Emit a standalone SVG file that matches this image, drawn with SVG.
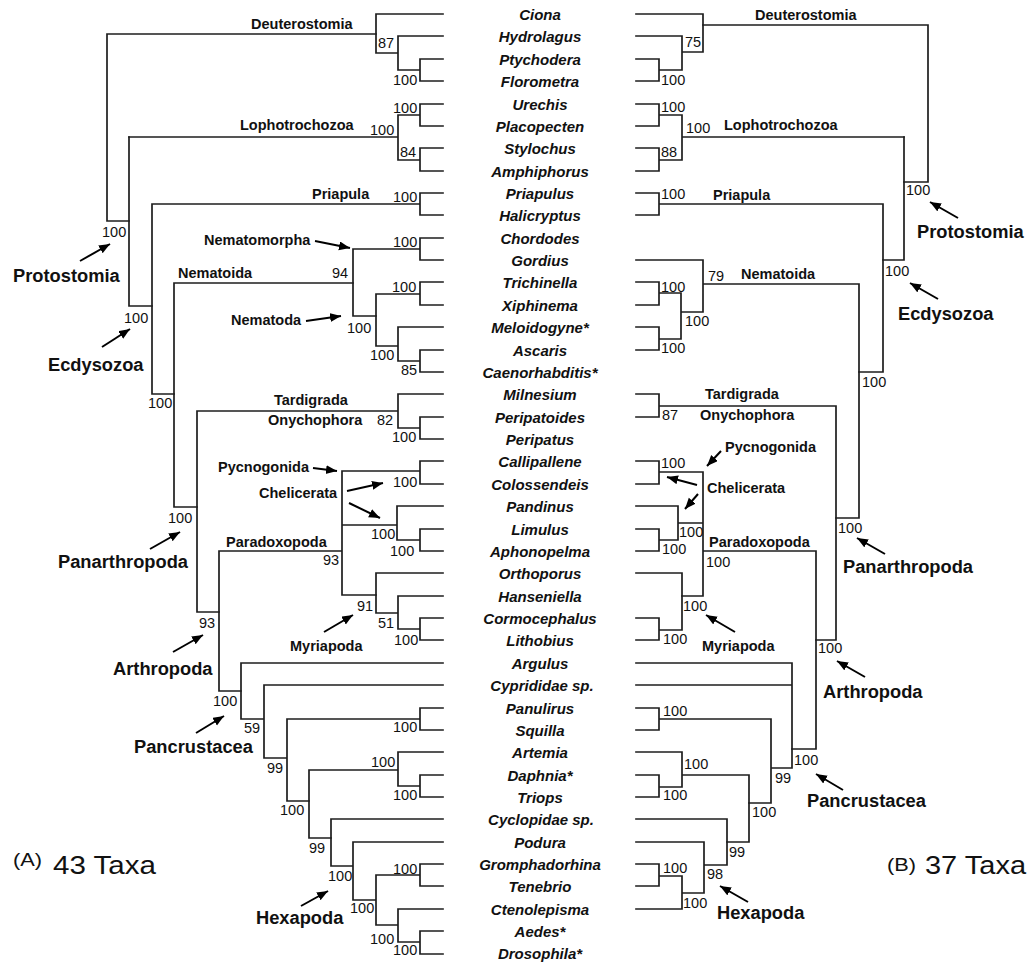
<svg xmlns="http://www.w3.org/2000/svg" width="1030" height="962" viewBox="0 0 1030 962">
<style>
.br{fill:none;stroke:#1e1e1e;stroke-width:1.7;stroke-linecap:square}
.ar{fill:none;stroke:#000;stroke-width:2;marker-end:url(#ah)}
.tx{font-family:"Liberation Sans",Arial,sans-serif;font-size:15px;font-weight:bold;font-style:italic;text-anchor:middle;fill:#111}
.n{font-family:"Liberation Sans",Arial,sans-serif;font-size:14.5px;fill:#111}
.c{font-family:"Liberation Sans",Arial,sans-serif;font-size:14.5px;font-weight:bold;fill:#111}
.b{font-family:"Liberation Sans",Arial,sans-serif;font-size:18.3px;font-weight:bold;fill:#111}
.p{font-family:"Liberation Sans",Arial,sans-serif;fill:#111}
</style>
<defs>
<marker id="ah" markerUnits="userSpaceOnUse" markerWidth="12" markerHeight="10" refX="11" refY="4.5" orient="auto">
<path d="M0,0 L11,4.5 L0,9 z" fill="#000"/>
</marker>
</defs>
<rect width="1030" height="962" fill="#fff"/>
<g id="connectors">
<g id="treeA" class="br">
<path d="M443,14 H376 V53 H398 M443,36 H398 V70 H420 M443,59 H420 V81 H443"/>
<path d="M376,34 H107 V221 H129"/>
<path d="M443,104 H420 V126 H443 M443,148 H420 V171 H443 M420,115 H398 V160 H420 M398,137 H129"/>
<path d="M129,137 V306 H152"/>
<path d="M443,193 H420 V215 H443 M420,204 H152 M152,204 V394 H174"/>
<path d="M174,283 V507 H197 M174,283 H353"/>
<path d="M353,249 V316 H376 M353,249 H420 M443,238 H420 V260 H443"/>
<path d="M376,294 V346 H398 M376,294 H420 M443,282 H420 V305 H443 M443,327 H398 V361 H420 M443,350 H420 V372 H443"/>
<path d="M197,411 V612 H219 M197,411 H398 M443,394 H398 V428 H420 M443,417 H420 V439 H443"/>
<path d="M219,551 V691 H241 M219,551 H342 M420,471 H342 V595 H376 M443,461 H420 V484 H443 M342,525 H397 M443,506 H397 V540 H420 M443,529 H420 V551 H443"/>
<path d="M443,573 H376 V613 H398 M443,596 H398 V629 H420 M443,618 H420 V640 H443"/>
<path d="M443,663 H241 V719 H264 M443,685 H264 V758 H287 M420,719 H287 V801 H309 M443,708 H420 V730 H443"/>
<path d="M398,770 H309 V838 H331 M443,752 H398 V786 H420 M443,775 H420 V797 H443"/>
<path d="M443,819 H331 V866 H353 M443,842 H353 V900 H376 M420,875 H376 V925 H398 M443,864 H420 V886 H443 M443,909 H398 V942 H420 M443,931 H420 V954 H443"/>
</g>
<g id="treeB" class="br">
<path d="M636,14 H703 V52 H682 M636,36 H682 V70 H659 M636,59 H659 V81 H636"/>
<path d="M703,25 H928 V182 H904"/>
<path d="M636,104 H659 V126 H636 M636,148 H659 V171 H636 M659,115 H682 V160 H659 M682,137 H904"/>
<path d="M904,137 V260 H883"/>
<path d="M636,193 H659 V215 H636 M659,204 H883 M883,204 V372 H859"/>
<path d="M859,284 V518 H836 M859,284 H703 M636,260 H703 V312 H681 M636,282 H659 V305 H636 M659,293 H681 V339 H659 M636,327 H659 V350 H636"/>
<path d="M836,406 V640 H816 M836,406 H659 M636,394 H659 V417 H636"/>
<path d="M816,551 V749 H792 M816,551 H703 M659,472 H703 V596 H682 M636,461 H659 V484 H636 M703,523 H678 M636,506 H678 V540 H659 M636,529 H659 V551 H636"/>
<path d="M636,573 H682 V630 H659 M636,618 H659 V640 H636"/>
<path d="M636,663 H792 V768 H771 M636,685 H792 M659,719 H771 V803 H749 M636,708 H659 V730 H636"/>
<path d="M682,775 H749 V842 H727 M636,752 H682 V787 H659 M636,775 H659 V797 H636"/>
<path d="M636,819 H727 V865 H704 M636,842 H704 V893 H682 M659,876 H682 V909 H636 M636,864 H659 V886 H636"/>
</g>
<g id="arrows">
<path class="ar" d="M80,261 L110,244"/>
<path class="ar" d="M102,347 L130,329"/>
<path class="ar" d="M315,241 L350,248"/>
<path class="ar" d="M306,321 L341,316"/>
<path class="ar" d="M313,468 L337,471"/>
<path class="ar" d="M347,491 L383,483"/>
<path class="ar" d="M349,503 L380,518"/>
<path class="ar" d="M150,549 L180,532"/>
<path class="ar" d="M173,652 L203,635"/>
<path class="ar" d="M324,632 L353,615"/>
<path class="ar" d="M196,733 L224,716"/>
<path class="ar" d="M301,906 L328,891"/>
<path class="ar" d="M958,218 L930,202"/>
<path class="ar" d="M938,299 L910,283"/>
<path class="ar" d="M721,451 L707,466"/>
<path class="ar" d="M697,485 L667,477"/>
<path class="ar" d="M698,494 L685,509"/>
<path class="ar" d="M885,554 L857,538"/>
<path class="ar" d="M865,677 L837,661"/>
<path class="ar" d="M735,632 L706,615"/>
<path class="ar" d="M843,790 L816,774"/>
<path class="ar" d="M748,902 L720,886"/>
</g>
</g>
<g id="taxa">
<text id="t-ciona" class="tx" x="540" y="20">Ciona</text>
<text id="t-hydrolagus" class="tx" x="540" y="42">Hydrolagus</text>
<text id="t-ptychodera" class="tx" x="540" y="65">Ptychodera</text>
<text id="t-florometra" class="tx" x="540" y="87">Florometra</text>
<text id="t-urechis" class="tx" x="540" y="110">Urechis</text>
<text id="t-placopecten" class="tx" x="540" y="132">Placopecten</text>
<text id="t-stylochus" class="tx" x="540" y="154">Stylochus</text>
<text id="t-amphiphorus" class="tx" x="540" y="177">Amphiphorus</text>
<text id="t-priapulus" class="tx" x="540" y="199">Priapulus</text>
<text id="t-halicryptus" class="tx" x="540" y="221">Halicryptus</text>
<text id="t-chordodes" class="tx" x="540" y="244">Chordodes</text>
<text id="t-gordius" class="tx" x="540" y="266">Gordius</text>
<text id="t-trichinella" class="tx" x="540" y="288">Trichinella</text>
<text id="t-xiphinema" class="tx" x="540" y="311">Xiphinema</text>
<text id="t-meloidogyne" class="tx" x="540" y="333">Meloidogyne*</text>
<text id="t-ascaris" class="tx" x="540" y="356">Ascaris</text>
<text id="t-caenorhabditis" class="tx" x="540" y="378">Caenorhabditis*</text>
<text id="t-milnesium" class="tx" x="540" y="400">Milnesium</text>
<text id="t-peripatoides" class="tx" x="540" y="423">Peripatoides</text>
<text id="t-peripatus" class="tx" x="540" y="445">Peripatus</text>
<text id="t-callipallene" class="tx" x="540" y="467">Callipallene</text>
<text id="t-colossendeis" class="tx" x="540" y="490">Colossendeis</text>
<text id="t-pandinus" class="tx" x="540" y="512">Pandinus</text>
<text id="t-limulus" class="tx" x="540" y="535">Limulus</text>
<text id="t-aphonopelma" class="tx" x="540" y="557">Aphonopelma</text>
<text id="t-orthoporus" class="tx" x="540" y="579">Orthoporus</text>
<text id="t-hanseniella" class="tx" x="540" y="602">Hanseniella</text>
<text id="t-cormocephalus" class="tx" x="540" y="624">Cormocephalus</text>
<text id="t-lithobius" class="tx" x="540" y="646">Lithobius</text>
<text id="t-argulus" class="tx" x="540" y="669">Argulus</text>
<text id="t-cyprididae" class="tx" x="542" y="691">Cyprididae sp.</text>
<text id="t-panulirus" class="tx" x="540" y="714">Panulirus</text>
<text id="t-squilla" class="tx" x="540" y="736">Squilla</text>
<text id="t-artemia" class="tx" x="540" y="758">Artemia</text>
<text id="t-daphnia" class="tx" x="540" y="781">Daphnia*</text>
<text id="t-triops" class="tx" x="540" y="803">Triops</text>
<text id="t-cyclopidae" class="tx" x="541" y="825">Cyclopidae sp.</text>
<text id="t-podura" class="tx" x="540" y="848">Podura</text>
<text id="t-gromphadorhina" class="tx" x="540" y="870">Gromphadorhina</text>
<text id="t-tenebrio" class="tx" x="540" y="892">Tenebrio</text>
<text id="t-ctenolepisma" class="tx" x="540" y="915">Ctenolepisma</text>
<text id="t-aedes" class="tx" x="540" y="937">Aedes*</text>
<text id="t-drosophila" class="tx" x="540" y="959">Drosophila*</text>
</g>
<g id="cladesA">
<text id="a-deut" class="c" x="251" y="29">Deuterostomia</text>
<text id="a-loph" class="c" x="240" y="130">Lophotrochozoa</text>
<text id="a-priap" class="c" x="312" y="199">Priapula</text>
<text id="a-nemm" class="c" x="204" y="245">Nematomorpha</text>
<text id="a-nemd" class="c" x="178" y="278">Nematoida</text>
<text id="a-nemt" class="c" x="231" y="325">Nematoda</text>
<text id="a-tard" class="c" x="274" y="405">Tardigrada</text>
<text id="a-onyc" class="c" x="268" y="425">Onychophora</text>
<text id="a-pycn" class="c" x="218" y="472">Pycnogonida</text>
<text id="a-chel" class="c" x="259" y="498">Chelicerata</text>
<text id="a-para" class="c" x="226" y="547">Paradoxopoda</text>
<text id="a-myri" class="c" x="290" y="651">Myriapoda</text>
<text id="a-prot" class="b" x="13" y="282">Protostomia</text>
<text id="a-ecdy" class="b" x="48" y="371">Ecdysozoa</text>
<text id="a-pana" class="b" x="58" y="568">Panarthropoda</text>
<text id="a-arth" class="b" x="113" y="675">Arthropoda</text>
<text id="a-panc" class="b" x="134" y="753">Pancrustacea</text>
<text id="a-hexa" class="b" x="256" y="924">Hexapoda</text>
<g id="a-title"><text class="p" x="13" y="866" font-size="19" textLength="29" lengthAdjust="spacingAndGlyphs">(A)</text><text class="p" x="53" y="874" font-size="26" textLength="103" lengthAdjust="spacingAndGlyphs">43 Taxa</text></g>
</g>
<g id="supportA" class="n">
<text x="378" y="48">87</text>
<text x="393" y="85">100</text>
<text x="102" y="237">100</text>
<text x="393" y="113">100</text>
<text x="370" y="135">100</text>
<text x="400" y="157">84</text>
<text x="393" y="202">100</text>
<text x="393" y="247">100</text>
<text x="332" y="278">94</text>
<text x="392" y="292">100</text>
<text x="347" y="333">100</text>
<text x="370" y="360">100</text>
<text x="401" y="375">85</text>
<text x="124" y="323">100</text>
<text x="148" y="408">100</text>
<text x="377" y="425">82</text>
<text x="392" y="442">100</text>
<text x="393" y="487">100</text>
<text x="371" y="539">100</text>
<text x="390" y="556">100</text>
<text x="323" y="565">93</text>
<text x="357" y="611">91</text>
<text x="378" y="628">51</text>
<text x="394" y="645">100</text>
<text x="168" y="523">100</text>
<text x="199" y="628">93</text>
<text x="213" y="706">100</text>
<text x="244" y="733">59</text>
<text x="393" y="732">100</text>
<text x="267" y="773">99</text>
<text x="371" y="767">100</text>
<text x="393" y="800">100</text>
<text x="280" y="815">100</text>
<text x="309" y="853">99</text>
<text x="328" y="881">100</text>
<text x="393" y="874">100</text>
<text x="350" y="913">100</text>
<text x="370" y="944">100</text>
<text x="393" y="955">100</text>
</g>
<g id="cladesB">
<text id="b-deut" class="c" x="755" y="20">Deuterostomia</text>
<text id="b-loph" class="c" x="724" y="130">Lophotrochozoa</text>
<text id="b-priap" class="c" x="713" y="200">Priapula</text>
<text id="b-nemd" class="c" x="741" y="279">Nematoida</text>
<text id="b-tard" class="c" x="705" y="399">Tardigrada</text>
<text id="b-onyc" class="c" x="700" y="420">Onychophora</text>
<text id="b-pycn" class="c" x="725" y="452">Pycnogonida</text>
<text id="b-chel" class="c" x="707" y="493">Chelicerata</text>
<text id="b-para" class="c" x="709" y="547">Paradoxopoda</text>
<text id="b-myri" class="c" x="702" y="651">Myriapoda</text>
<text id="b-prot" class="b" x="917" y="238">Protostomia</text>
<text id="b-ecdy" class="b" x="898" y="320">Ecdysozoa</text>
<text id="b-pana" class="b" x="843" y="573">Panarthropoda</text>
<text id="b-arth" class="b" x="823" y="698">Arthropoda</text>
<text id="b-panc" class="b" x="807" y="807">Pancrustacea</text>
<text id="b-hexa" class="b" x="717" y="919">Hexapoda</text>
<g id="b-title"><text class="p" x="887" y="871" font-size="19" textLength="29" lengthAdjust="spacingAndGlyphs">(B)</text><text class="p" x="925" y="874" font-size="26" textLength="101" lengthAdjust="spacingAndGlyphs">37 Taxa</text></g>
</g>
<g id="supportB" class="n">
<text x="685" y="47">75</text>
<text x="661" y="85">100</text>
<text x="906" y="195">100</text>
<text x="661" y="112">100</text>
<text x="686" y="133">100</text>
<text x="661" y="157">88</text>
<text x="661" y="199">100</text>
<text x="885" y="276">100</text>
<text x="708" y="281">79</text>
<text x="661" y="292">100</text>
<text x="685" y="326">100</text>
<text x="661" y="353">100</text>
<text x="862" y="387">100</text>
<text x="662" y="420">87</text>
<text x="661" y="468">100</text>
<text x="679" y="537">100</text>
<text x="662" y="554">100</text>
<text x="706" y="567">100</text>
<text x="838" y="533">100</text>
<text x="683" y="611">100</text>
<text x="663" y="644">100</text>
<text x="818" y="653">100</text>
<text x="663" y="716">100</text>
<text x="794" y="765">100</text>
<text x="775" y="783">99</text>
<text x="684" y="769">100</text>
<text x="663" y="800">100</text>
<text x="752" y="817">100</text>
<text x="729" y="857">99</text>
<text x="663" y="873">100</text>
<text x="707" y="879">98</text>
<text x="683" y="908">100</text>
</g>
</svg>
